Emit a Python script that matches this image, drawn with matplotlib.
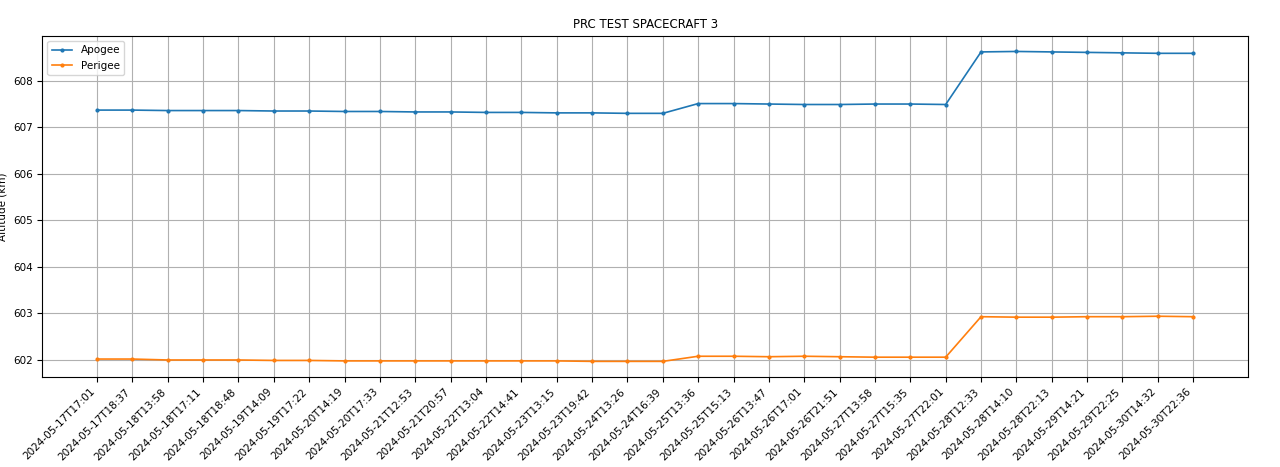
import matplotlib
matplotlib.use("Agg")
import matplotlib.pyplot as plt

plt.rcParams["font.size"] = 7.5

times = [
    "2024-05-17T17:01", "2024-05-17T18:37", "2024-05-18T13:58", "2024-05-18T17:11",
    "2024-05-18T18:48", "2024-05-19T14:09", "2024-05-19T17:22", "2024-05-20T14:19",
    "2024-05-20T17:33", "2024-05-21T12:53", "2024-05-21T20:57", "2024-05-22T13:04",
    "2024-05-22T14:41", "2024-05-23T13:15", "2024-05-23T19:42", "2024-05-24T13:26",
    "2024-05-24T16:39", "2024-05-25T13:36", "2024-05-25T15:13", "2024-05-26T13:47",
    "2024-05-26T17:01", "2024-05-26T21:51", "2024-05-27T13:58", "2024-05-27T15:35",
    "2024-05-27T22:01", "2024-05-28T12:33", "2024-05-28T14:10", "2024-05-28T22:13",
    "2024-05-29T14:21", "2024-05-29T22:25", "2024-05-30T14:32", "2024-05-30T22:36",
]
apogee = [
    607.37, 607.37, 607.36, 607.36, 607.36, 607.35, 607.35, 607.34, 607.34, 607.33,
    607.33, 607.32, 607.32, 607.31, 607.31, 607.30, 607.30,
    607.51, 607.51, 607.50, 607.49, 607.49, 607.50, 607.50, 607.49,
    608.62, 608.63, 608.62, 608.61, 608.60, 608.59, 608.59,
]
perigee = [
    602.02, 602.02, 602.00, 602.00, 602.00, 601.99, 601.99, 601.98, 601.98, 601.98,
    601.98, 601.98, 601.98, 601.98, 601.97, 601.97, 601.97,
    602.08, 602.08, 602.07, 602.08, 602.07, 602.06, 602.06, 602.06,
    602.93, 602.92, 602.92, 602.93, 602.93, 602.94, 602.93,
]

fig, ax = plt.subplots(figsize=(12.8, 4.67), dpi=100)
ax.plot(times, apogee, marker=".", markersize=4, linewidth=1.2, label="Apogee")
ax.plot(times, perigee, marker=".", markersize=4, linewidth=1.2, label="Perigee")
ax.set_title("PRC TEST SPACECRAFT 3", fontsize=8.5)
ax.set_xlabel("Date/Time")
ax.set_ylabel("Altitude (km)")
ax.grid(True)
ax.legend(loc="upper left")
plt.setp(ax.get_xticklabels(), rotation=45, ha="right")
fig.subplots_adjust(left=0.033, right=0.975, top=0.923, bottom=0.193)
fig.savefig("out.png")
